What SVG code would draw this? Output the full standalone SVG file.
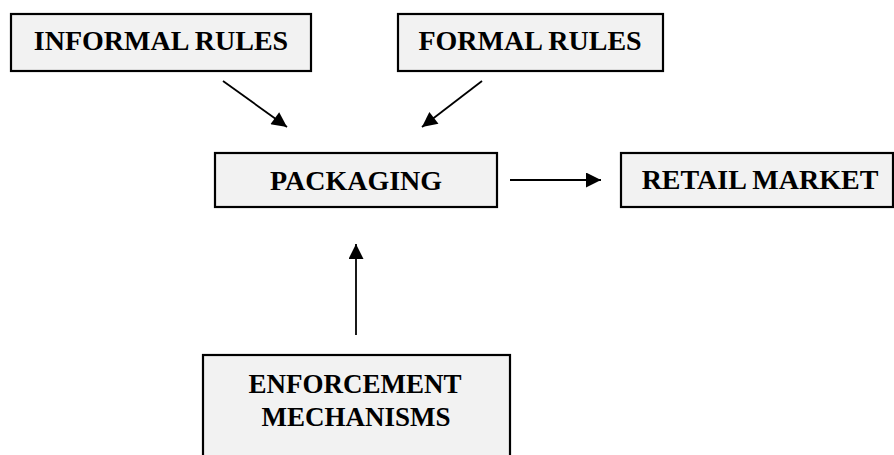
<svg xmlns="http://www.w3.org/2000/svg" width="894" height="455" viewBox="0 0 894 455">
<defs>
<style>
.box{fill:#f2f2f2;stroke:#000;stroke-width:2.2}
.lbl{font-family:"Liberation Serif","Times New Roman",serif;font-weight:bold;font-size:28px;fill:#000;text-anchor:middle}
.sm{font-size:27px}
.con{stroke:#000;stroke-width:1.8;fill:none;marker-end:url(#ah)}
</style>
<marker id="ah" viewBox="0 0 10 10" refX="10" refY="5" markerUnits="userSpaceOnUse" markerWidth="18" markerHeight="15" orient="auto">
<path d="M0,0 L10,5 L0,10 Z" fill="#000"/>
</marker>
</defs>
<rect width="894" height="455" fill="#fff"/>
<g id="connectors">
<line class="con" x1="223" y1="81" x2="287" y2="127"/>
<line class="con" x1="482" y1="81" x2="422" y2="127"/>
<line class="con" x1="510" y1="180" x2="601" y2="180"/>
<line class="con" x1="356" y1="335" x2="356" y2="244"/>
</g>
<g id="informal">
<rect class="box" x="11" y="14" width="300" height="57"/>
<text class="lbl" x="161" y="50">INFORMAL RULES</text>
</g>
<g id="formal">
<rect class="box" x="398" y="14" width="265" height="57"/>
<text class="lbl" x="530" y="50">FORMAL RULES</text>
</g>
<g id="packaging">
<rect class="box" x="215" y="153" width="282" height="54"/>
<text class="lbl" x="356" y="190">PACKAGING</text>
</g>
<g id="retail">
<rect class="box" x="621" y="153" width="272" height="54"/>
<text class="lbl" x="760" y="189">RETAIL MARKET</text>
</g>
<g id="enforcement">
<rect class="box" x="203" y="355" width="307" height="110"/>
<text class="lbl sm" x="355" y="393">ENFORCEMENT</text>
<text class="lbl sm" x="356" y="426">MECHANISMS</text>
</g>
</svg>
